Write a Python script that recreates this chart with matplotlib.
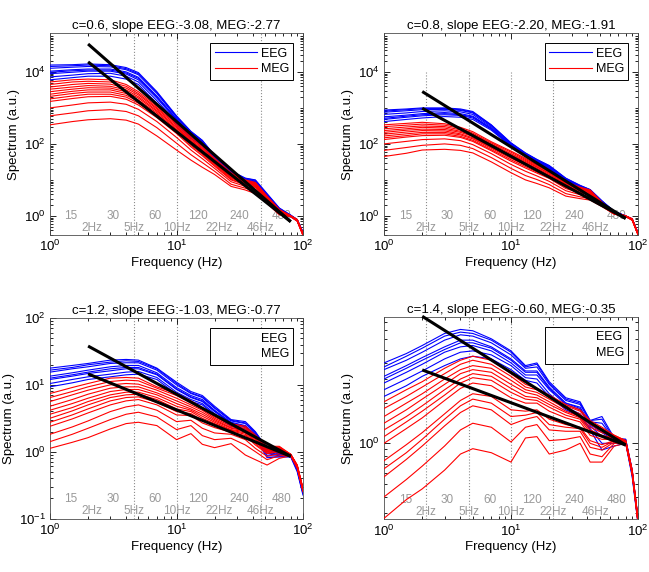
import numpy as np
import matplotlib
matplotlib.use("Agg")
import matplotlib.pyplot as plt
from matplotlib.ticker import FixedLocator, FixedFormatter, LogLocator, NullFormatter
import matplotlib.transforms as mtransforms

plt.rcParams['font.family'] = ['Liberation Sans', 'DejaVu Sans']
plt.rcParams['mathtext.default'] = 'regular'

# ---------------- data ----------------
freqs = [1, 1.5, 2, 3, 4, 5, 7, 10, 13, 16, 20, 27, 35, 42, 52, 65, 80, 90, 100]

titles = ["c=0.6, slope EEG:-3.08, MEG:-2.77",
          "c=0.8, slope EEG:-2.20, MEG:-1.91",
          "c=1.2, slope EEG:-1.03, MEG:-0.77",
          "c=1.4, slope EEG:-0.60, MEG:-0.35"]
slopes_eeg = [-3.08, -2.20, -1.03, -0.60]
slopes_meg = [-2.77, -1.91, -0.77, -0.35]
fit_log10_at_80hz = [-0.16, -0.07, -0.07, -0.013]   # fit-line level at 80 Hz (log10)
fit_range_hz = [2, 80]

# spectra, read as log10 values at `freqs`
eeg_log10_c06 = [
    [4.19, 4.20, 4.22, 4.20, 4.12, 3.98, 3.45, 2.78, 2.35, 2.10, 1.68, 1.25, 1.05, 1.00, 0.62, 0.22, 0.02, -0.10, -0.45],
    [4.15, 4.17, 4.19, 4.17, 4.09, 3.95, 3.43, 2.76, 2.34, 2.09, 1.67, 1.24, 1.04, 0.99, 0.60, 0.21, 0.02, -0.10, -0.45],
    [4.10, 4.13, 4.15, 4.14, 4.06, 3.92, 3.40, 2.74, 2.32, 2.07, 1.65, 1.22, 1.02, 0.97, 0.58, 0.19, 0.01, -0.11, -0.46],
    [4.02, 4.06, 4.08, 4.08, 4.00, 3.85, 3.33, 2.70, 2.28, 2.04, 1.62, 1.20, 1.00, 0.95, 0.56, 0.17, 0.00, -0.12, -0.48],
    [3.99, 4.03, 4.05, 4.05, 3.97, 3.82, 3.30, 2.68, 2.27, 2.03, 1.61, 1.19, 0.99, 0.94, 0.55, 0.16, 0.00, -0.12, -0.48],
    [3.95, 3.99, 4.02, 4.02, 3.94, 3.78, 3.27, 2.66, 2.25, 2.02, 1.60, 1.18, 0.98, 0.92, 0.54, 0.15, 0.00, -0.12, -0.48],
    [3.86, 3.91, 3.95, 3.96, 3.88, 3.72, 3.20, 2.61, 2.20, 1.98, 1.56, 1.15, 0.95, 0.89, 0.51, 0.13, -0.01, -0.13, -0.50],
    [3.78, 3.84, 3.88, 3.88, 3.80, 3.65, 3.12, 2.55, 2.15, 1.95, 1.50, 1.12, 0.92, 0.85, 0.48, 0.10, -0.03, -0.14, -0.52],
]
meg_log10_c06 = [
    [3.72, 3.78, 3.80, 3.78, 3.65, 3.45, 3.04, 2.60, 2.20, 1.92, 1.60, 1.20, 1.00, 0.93, 0.55, 0.18, 0.00, -0.10, -0.48],
    [3.65, 3.72, 3.74, 3.72, 3.60, 3.40, 3.00, 2.56, 2.16, 1.89, 1.57, 1.17, 0.98, 0.91, 0.53, 0.17, 0.00, -0.10, -0.49],
    [3.58, 3.65, 3.68, 3.66, 3.55, 3.36, 2.97, 2.52, 2.12, 1.86, 1.54, 1.15, 0.97, 0.90, 0.52, 0.16, 0.00, -0.11, -0.50],
    [3.52, 3.58, 3.62, 3.60, 3.50, 3.31, 2.93, 2.48, 2.09, 1.83, 1.51, 1.12, 0.95, 0.88, 0.51, 0.15, -0.01, -0.11, -0.50],
    [3.45, 3.52, 3.56, 3.55, 3.45, 3.27, 2.90, 2.45, 2.06, 1.80, 1.49, 1.10, 0.94, 0.87, 0.50, 0.14, -0.01, -0.12, -0.50],
    [3.38, 3.46, 3.50, 3.50, 3.40, 3.22, 2.86, 2.41, 2.03, 1.77, 1.46, 1.07, 0.92, 0.85, 0.48, 0.13, -0.01, -0.12, -0.51],
    [3.32, 3.40, 3.44, 3.44, 3.35, 3.18, 2.82, 2.38, 2.00, 1.74, 1.44, 1.05, 0.90, 0.83, 0.47, 0.12, -0.01, -0.12, -0.52],
    [3.25, 3.33, 3.38, 3.38, 3.30, 3.13, 2.78, 2.34, 1.96, 1.71, 1.41, 1.02, 0.88, 0.81, 0.45, 0.11, -0.01, -0.12, -0.52],
    [3.18, 3.26, 3.31, 3.32, 3.24, 3.08, 2.73, 2.29, 1.92, 1.67, 1.38, 1.00, 0.86, 0.79, 0.44, 0.10, -0.01, -0.13, -0.52],
    [3.00, 3.08, 3.14, 3.16, 3.10, 2.96, 2.62, 2.18, 1.83, 1.59, 1.32, 0.95, 0.82, 0.74, 0.42, 0.08, -0.02, -0.13, -0.53],
    [2.78, 2.86, 2.92, 2.95, 2.90, 2.78, 2.45, 2.02, 1.70, 1.48, 1.24, 0.88, 0.77, 0.68, 0.38, 0.05, -0.02, -0.14, -0.54],
    [2.53, 2.62, 2.67, 2.70, 2.66, 2.55, 2.22, 1.83, 1.55, 1.35, 1.15, 0.82, 0.72, 0.62, 0.35, 0.03, -0.02, -0.15, -0.55],
]
eeg_log10_c08 = [
    [2.94, 2.97, 3.00, 3.00, 2.97, 2.90, 2.53, 2.03, 1.75, 1.57, 1.40, 1.05, 0.85, 0.73, 0.42, 0.13, 0.00, -0.08, -0.47],
    [2.91, 2.95, 2.98, 2.98, 2.95, 2.88, 2.52, 2.02, 1.74, 1.56, 1.39, 1.04, 0.84, 0.73, 0.41, 0.12, 0.00, -0.08, -0.47],
    [2.88, 2.92, 2.95, 2.96, 2.93, 2.86, 2.50, 2.01, 1.73, 1.55, 1.38, 1.03, 0.83, 0.72, 0.41, 0.12, 0.00, -0.09, -0.48],
    [2.82, 2.86, 2.90, 2.92, 2.89, 2.82, 2.47, 1.99, 1.71, 1.53, 1.36, 1.02, 0.82, 0.70, 0.40, 0.11, -0.01, -0.09, -0.48],
    [2.75, 2.80, 2.84, 2.87, 2.84, 2.77, 2.44, 1.97, 1.70, 1.52, 1.34, 1.01, 0.81, 0.69, 0.39, 0.11, -0.01, -0.10, -0.49],
    [2.71, 2.77, 2.81, 2.84, 2.81, 2.75, 2.42, 1.96, 1.69, 1.51, 1.33, 1.00, 0.80, 0.68, 0.38, 0.10, -0.01, -0.10, -0.49],
    [2.68, 2.74, 2.78, 2.81, 2.79, 2.72, 2.41, 1.95, 1.68, 1.50, 1.32, 0.99, 0.79, 0.68, 0.37, 0.10, -0.02, -0.10, -0.49],
    [2.62, 2.68, 2.72, 2.76, 2.74, 2.68, 2.38, 1.93, 1.66, 1.48, 1.30, 0.98, 0.78, 0.66, 0.36, 0.09, -0.02, -0.10, -0.50],
]
meg_log10_c08 = [
    [2.53, 2.57, 2.60, 2.56, 2.46, 2.34, 2.06, 1.80, 1.60, 1.42, 1.25, 0.95, 0.80, 0.72, 0.38, 0.10, 0.00, -0.08, -0.48],
    [2.48, 2.52, 2.55, 2.52, 2.43, 2.30, 2.03, 1.77, 1.57, 1.40, 1.23, 0.93, 0.78, 0.70, 0.37, 0.10, 0.00, -0.08, -0.48],
    [2.42, 2.47, 2.50, 2.48, 2.39, 2.27, 2.00, 1.73, 1.54, 1.37, 1.20, 0.91, 0.77, 0.69, 0.36, 0.09, 0.00, -0.09, -0.49],
    [2.37, 2.42, 2.46, 2.44, 2.35, 2.24, 1.97, 1.70, 1.51, 1.35, 1.18, 0.89, 0.75, 0.67, 0.35, 0.08, -0.01, -0.09, -0.49],
    [2.32, 2.38, 2.41, 2.40, 2.32, 2.21, 1.94, 1.67, 1.48, 1.32, 1.15, 0.87, 0.73, 0.66, 0.35, 0.08, -0.01, -0.10, -0.50],
    [2.27, 2.33, 2.37, 2.36, 2.28, 2.17, 1.91, 1.63, 1.44, 1.29, 1.12, 0.84, 0.71, 0.64, 0.34, 0.07, -0.01, -0.10, -0.50],
    [2.22, 2.28, 2.32, 2.32, 2.25, 2.14, 1.88, 1.60, 1.41, 1.26, 1.10, 0.82, 0.69, 0.62, 0.33, 0.07, -0.01, -0.10, -0.50],
    [2.17, 2.23, 2.28, 2.28, 2.21, 2.10, 1.84, 1.56, 1.37, 1.22, 1.07, 0.79, 0.66, 0.60, 0.32, 0.06, -0.01, -0.10, -0.51],
    [2.12, 2.19, 2.23, 2.24, 2.18, 2.07, 1.81, 1.52, 1.33, 1.19, 1.04, 0.76, 0.64, 0.58, 0.31, 0.06, -0.01, -0.11, -0.51],
    [2.00, 2.07, 2.12, 2.14, 2.09, 1.98, 1.73, 1.43, 1.24, 1.11, 0.96, 0.70, 0.59, 0.53, 0.29, 0.05, -0.01, -0.11, -0.52],
    [1.82, 1.90, 1.96, 2.00, 1.96, 1.87, 1.62, 1.32, 1.12, 1.01, 0.87, 0.62, 0.53, 0.48, 0.27, 0.05, -0.02, -0.12, -0.52],
    [1.65, 1.74, 1.83, 1.85, 1.82, 1.75, 1.50, 1.20, 1.00, 0.90, 0.78, 0.55, 0.48, 0.44, 0.26, 0.05, -0.02, -0.12, -0.53],
]
eeg_log10_c12 = [
    [1.25, 1.29, 1.32, 1.37, 1.38, 1.37, 1.25, 1.04, 0.90, 0.84, 0.68, 0.48, 0.45, 0.30, 0.05, -0.03, -0.04, -0.22, -0.57],
    [1.22, 1.26, 1.30, 1.34, 1.36, 1.35, 1.24, 1.02, 0.88, 0.82, 0.66, 0.47, 0.43, 0.29, 0.04, -0.03, -0.04, -0.23, -0.58],
    [1.19, 1.24, 1.27, 1.32, 1.33, 1.33, 1.22, 1.00, 0.87, 0.81, 0.65, 0.46, 0.42, 0.28, 0.03, -0.04, -0.05, -0.24, -0.59],
    [1.13, 1.18, 1.22, 1.27, 1.29, 1.29, 1.18, 0.96, 0.84, 0.78, 0.62, 0.44, 0.39, 0.26, 0.00, -0.05, -0.06, -0.25, -0.60],
    [1.10, 1.15, 1.19, 1.24, 1.26, 1.26, 1.16, 0.94, 0.82, 0.76, 0.61, 0.43, 0.38, 0.25, -0.02, -0.05, -0.06, -0.26, -0.61],
    [1.08, 1.13, 1.17, 1.21, 1.24, 1.24, 1.15, 0.93, 0.81, 0.75, 0.60, 0.42, 0.37, 0.24, -0.03, -0.06, -0.06, -0.27, -0.62],
    [1.02, 1.08, 1.12, 1.16, 1.19, 1.20, 1.11, 0.89, 0.78, 0.72, 0.57, 0.40, 0.34, 0.22, -0.06, -0.07, -0.07, -0.28, -0.63],
    [0.97, 1.03, 1.08, 1.12, 1.15, 1.16, 1.08, 0.86, 0.75, 0.70, 0.55, 0.38, 0.32, 0.20, -0.09, -0.08, -0.08, -0.30, -0.65],
]
meg_log10_c12 = [
    [0.87, 0.96, 1.02, 1.10, 1.11, 1.10, 0.97, 0.87, 0.76, 0.66, 0.55, 0.42, 0.38, 0.25, 0.08, 0.08, -0.04, -0.20, -0.55],
    [0.81, 0.90, 0.97, 1.05, 1.07, 1.06, 0.95, 0.84, 0.73, 0.64, 0.52, 0.40, 0.36, 0.23, 0.06, 0.07, -0.04, -0.20, -0.55],
    [0.75, 0.85, 0.92, 1.00, 1.02, 1.01, 0.92, 0.80, 0.70, 0.62, 0.50, 0.38, 0.34, 0.22, 0.05, 0.06, -0.04, -0.21, -0.56],
    [0.68, 0.78, 0.86, 0.95, 0.97, 0.97, 0.88, 0.76, 0.67, 0.59, 0.48, 0.36, 0.32, 0.20, 0.03, 0.05, -0.04, -0.21, -0.56],
    [0.62, 0.72, 0.80, 0.90, 0.93, 0.93, 0.85, 0.72, 0.64, 0.56, 0.46, 0.35, 0.31, 0.18, 0.02, 0.04, -0.05, -0.22, -0.57],
    [0.56, 0.66, 0.75, 0.85, 0.89, 0.89, 0.81, 0.68, 0.62, 0.53, 0.44, 0.33, 0.30, 0.16, 0.01, 0.03, -0.05, -0.22, -0.57],
    [0.50, 0.61, 0.70, 0.81, 0.85, 0.86, 0.78, 0.64, 0.60, 0.50, 0.42, 0.32, 0.28, 0.14, 0.00, 0.02, -0.05, -0.22, -0.57],
    [0.44, 0.55, 0.64, 0.76, 0.81, 0.82, 0.74, 0.60, 0.57, 0.47, 0.39, 0.31, 0.26, 0.12, -0.02, 0.01, -0.05, -0.22, -0.57],
    [0.38, 0.49, 0.58, 0.70, 0.76, 0.78, 0.70, 0.55, 0.54, 0.43, 0.36, 0.29, 0.24, 0.10, -0.03, 0.00, -0.05, -0.23, -0.58],
    [0.26, 0.37, 0.46, 0.60, 0.67, 0.70, 0.62, 0.45, 0.47, 0.35, 0.28, 0.26, 0.18, 0.05, -0.07, -0.03, -0.05, -0.23, -0.58],
    [0.15, 0.26, 0.35, 0.48, 0.56, 0.59, 0.52, 0.33, 0.39, 0.24, 0.18, 0.20, 0.10, 0.00, -0.12, -0.06, -0.06, -0.24, -0.59],
    [0.05, 0.14, 0.21, 0.34, 0.42, 0.44, 0.39, 0.18, 0.27, 0.11, 0.06, 0.12, -0.05, -0.12, -0.20, -0.10, -0.06, -0.25, -0.60],
]
eeg_log10_c14 = [
    [0.60, 0.67, 0.73, 0.82, 0.85, 0.84, 0.78, 0.69, 0.58, 0.60, 0.46, 0.34, 0.31, 0.17, 0.20, 0.04, 0.03, -0.20, -0.56],
    [0.57, 0.65, 0.71, 0.80, 0.83, 0.82, 0.77, 0.68, 0.57, 0.59, 0.45, 0.33, 0.30, 0.17, 0.18, 0.03, 0.03, -0.20, -0.56],
    [0.55, 0.62, 0.68, 0.77, 0.81, 0.80, 0.75, 0.66, 0.56, 0.57, 0.44, 0.32, 0.29, 0.16, 0.15, 0.03, 0.02, -0.21, -0.57],
    [0.50, 0.58, 0.64, 0.72, 0.77, 0.77, 0.72, 0.63, 0.54, 0.54, 0.42, 0.30, 0.27, 0.14, 0.10, 0.02, 0.02, -0.22, -0.58],
    [0.48, 0.56, 0.62, 0.70, 0.75, 0.75, 0.71, 0.62, 0.53, 0.53, 0.41, 0.30, 0.26, 0.14, 0.08, 0.02, 0.01, -0.22, -0.58],
    [0.45, 0.53, 0.59, 0.68, 0.72, 0.73, 0.69, 0.60, 0.51, 0.51, 0.40, 0.29, 0.25, 0.13, 0.05, 0.01, 0.01, -0.23, -0.58],
    [0.40, 0.48, 0.54, 0.63, 0.68, 0.69, 0.66, 0.58, 0.49, 0.48, 0.37, 0.27, 0.22, 0.11, 0.00, 0.00, 0.01, -0.24, -0.59],
    [0.35, 0.43, 0.50, 0.58, 0.63, 0.65, 0.63, 0.55, 0.47, 0.45, 0.35, 0.25, 0.20, 0.10, -0.05, -0.02, 0.00, -0.25, -0.60],
]
meg_log10_c14 = [
    [0.31, 0.40, 0.46, 0.56, 0.62, 0.65, 0.62, 0.52, 0.44, 0.41, 0.36, 0.29, 0.25, 0.17, 0.12, 0.06, 0.02, -0.20, -0.56],
    [0.26, 0.35, 0.42, 0.52, 0.59, 0.62, 0.59, 0.50, 0.42, 0.40, 0.35, 0.28, 0.24, 0.16, 0.11, 0.06, 0.02, -0.20, -0.56],
    [0.20, 0.30, 0.37, 0.48, 0.55, 0.58, 0.56, 0.47, 0.40, 0.38, 0.33, 0.26, 0.22, 0.14, 0.09, 0.05, 0.02, -0.21, -0.57],
    [0.15, 0.25, 0.33, 0.44, 0.52, 0.55, 0.53, 0.44, 0.38, 0.36, 0.31, 0.24, 0.20, 0.12, 0.08, 0.05, 0.01, -0.21, -0.57],
    [0.10, 0.20, 0.28, 0.40, 0.48, 0.52, 0.50, 0.41, 0.35, 0.34, 0.29, 0.23, 0.19, 0.10, 0.06, 0.04, 0.01, -0.21, -0.57],
    [0.05, 0.16, 0.24, 0.36, 0.45, 0.49, 0.47, 0.38, 0.33, 0.32, 0.27, 0.21, 0.18, 0.08, 0.05, 0.04, 0.01, -0.21, -0.57],
    [0.00, 0.11, 0.19, 0.32, 0.41, 0.45, 0.43, 0.34, 0.30, 0.30, 0.24, 0.19, 0.16, 0.06, 0.03, 0.03, 0.01, -0.22, -0.58],
    [-0.13, -0.01, 0.08, 0.22, 0.32, 0.37, 0.35, 0.25, 0.24, 0.25, 0.18, 0.14, 0.12, 0.02, -0.01, 0.02, 0.01, -0.22, -0.58],
    [-0.19, -0.07, 0.03, 0.18, 0.28, 0.33, 0.30, 0.20, 0.21, 0.23, 0.14, 0.12, 0.11, 0.00, -0.03, 0.02, 0.01, -0.22, -0.58],
    [-0.25, -0.12, -0.02, 0.13, 0.23, 0.28, 0.25, 0.14, 0.18, 0.20, 0.10, 0.09, 0.09, -0.03, -0.05, 0.01, 0.00, -0.22, -0.59],
    [-0.40, -0.27, -0.17, -0.02, 0.10, 0.15, 0.12, 0.01, 0.12, 0.14, 0.02, 0.03, 0.05, -0.08, -0.10, 0.00, 0.00, -0.23, -0.59],
    [-0.56, -0.42, -0.34, -0.20, -0.08, -0.04, -0.07, -0.14, 0.04, 0.05, -0.08, -0.05, 0.00, -0.14, -0.14, -0.02, 0.00, -0.22, -0.60],
]
eeg_sets = [eeg_log10_c06, eeg_log10_c08, eeg_log10_c12, eeg_log10_c14]
meg_sets = [meg_log10_c06, meg_log10_c08, meg_log10_c12, meg_log10_c14]

band_labels_top = ["15", "30", "60", "120", "240", "480"]
band_labels_top_hz = [1.468, 3.16, 6.81, 14.68, 31.6, 68.1]
band_labels_bottom = ["2Hz", "5Hz", "10Hz", "22Hz", "46Hz"]
band_labels_bottom_hz = [2.154, 4.642, 10.0, 21.54, 46.42]
vlines_hz = [[4.642, 10.0, 46.42], [2.154, 4.642, 10.0, 21.54],
             [4.642, 10.0, 46.42], [2.154, 4.642, 10.0, 21.54]]
vline_top = [None, 1e4, None, None]

ylims = [(10**-0.53, 10**5.08), (10**-0.53, 10**5.08), (0.1, 100), (10**-0.567, 10**0.945)]
ymajor = [[1, 1e2, 1e4], [1, 1e2, 1e4], [0.1, 1, 10, 100], [1]]
ymajor_labels = [[r"$10^{0}$", r"$10^{2}$", r"$10^{4}$"], [r"$10^{0}$", r"$10^{2}$", r"$10^{4}$"],
                 [r"$10^{-1}$", r"$10^{0}$", r"$10^{1}$", r"$10^{2}$"], [r"$10^{0}$"]]
legend_lines_visible = [True, True, False, False]

# ---------------- figure ----------------
W, H = 649, 572
fig = plt.figure(figsize=(W / 100, H / 100), dpi=100)

# axes boxes in pixels: left, right, top, bottom
boxes = [(50, 303, 33, 235), (384, 638, 33, 235), (50, 303, 318, 518.5), (384, 638, 316.7, 519.3)]

gray_txt = (0.6, 0.6, 0.6)

for i in range(4):
    l, r, t, b = boxes[i]
    ax = fig.add_axes([l / W, 1 - b / H, (r - l) / W, (b - t) / H])
    ax.set_xscale('log')
    ax.set_yscale('log')
    ax.set_xlim(1, 100)
    ax.set_ylim(*ylims[i])

    fr = np.array(freqs)
    for k, c in enumerate(eeg_sets[i]):
        ax.plot(fr, 10 ** np.array(c), color=(0, 0, 1), lw=0.8, zorder=3,
                label="EEG" if k == 0 else None)
    for k, c in enumerate(meg_sets[i]):
        ax.plot(fr, 10 ** np.array(c), color=(1, 0, 0), lw=0.8, zorder=4,
                label="MEG" if k == 0 else None)

    # fitted power-law lines
    fx = np.array(fit_range_hz, dtype=float)
    a = fit_log10_at_80hz[i]
    ax.plot(fx, 10 ** (a + slopes_eeg[i] * np.log10(fx / 80.0)), color='k', lw=2.2,
            zorder=6, clip_on=False, solid_capstyle='butt')
    ax.plot(fx, 10 ** (a + slopes_meg[i] * np.log10(fx / 80.0)), color='k', lw=2.2,
            zorder=6, clip_on=False, solid_capstyle='butt')

    # dotted guide lines
    for v in vlines_hz[i]:
        if vline_top[i] is None:
            ax.axvline(v, color=(0.55, 0.55, 0.55), ls=':', lw=0.8, zorder=1)
        else:
            ax.plot([v, v], [ylims[i][0], vline_top[i]], color=(0.55, 0.55, 0.55), ls=':', lw=0.8, zorder=1)

    trans = mtransforms.blended_transform_factory(ax.transData, ax.transAxes)
    for s, xv in zip(band_labels_top, band_labels_top_hz):
        ax.text(xv, 0.095, s, transform=trans, ha='center', va='center', fontsize=8.5,
                color=gray_txt, zorder=2)
    for s, xv in zip(band_labels_bottom, band_labels_bottom_hz):
        ax.text(xv, 0.037, s, transform=trans, ha='center', va='center', fontsize=8.5,
                color=gray_txt, zorder=2)

    ax.set_title(titles[i], fontsize=9.5, pad=3)
    ax.set_xlabel("Frequency (Hz)", fontsize=9.5, labelpad=2)
    ax.set_ylabel("Spectrum (a.u.)", fontsize=9.5, labelpad=3)

    ax.xaxis.set_major_locator(FixedLocator([1, 10, 100]))
    ax.xaxis.set_major_formatter(FixedFormatter([r"$10^{0}$", r"$10^{1}$", r"$10^{2}$"]))
    ax.xaxis.set_minor_locator(LogLocator(base=10, subs=np.arange(2, 10), numticks=20))
    ax.xaxis.set_minor_formatter(NullFormatter())
    ax.yaxis.set_major_locator(FixedLocator(ymajor[i]))
    ax.yaxis.set_major_formatter(FixedFormatter(ymajor_labels[i]))
    ax.yaxis.set_minor_locator(LogLocator(base=10, subs=np.arange(1, 10), numticks=30))
    ax.yaxis.set_minor_formatter(NullFormatter())
    ax.tick_params(which='both', direction='in', top=True, right=True, labelsize=9.5,
                   width=0.6, colors='k')
    ax.tick_params(which='major', length=4, pad=3)
    ax.tick_params(which='minor', length=2)
    for sp in ax.spines.values():
        sp.set_linewidth(0.6)
        sp.set_color((0.3, 0.3, 0.3))

    leg = ax.legend(loc='upper right', bbox_to_anchor=(0.962, 0.949), borderaxespad=0,
                    fontsize=9, handlelength=3.4, handletextpad=0.3, borderpad=0.35,
                    labelspacing=0.3, fancybox=False, framealpha=1, edgecolor='k')
    leg.get_frame().set_linewidth(0.7)
    leg.set_zorder(10)
    if not legend_lines_visible[i]:
        for h in leg.legend_handles:
            h.set_alpha(0)

fig.savefig("out.png", dpi=100)
